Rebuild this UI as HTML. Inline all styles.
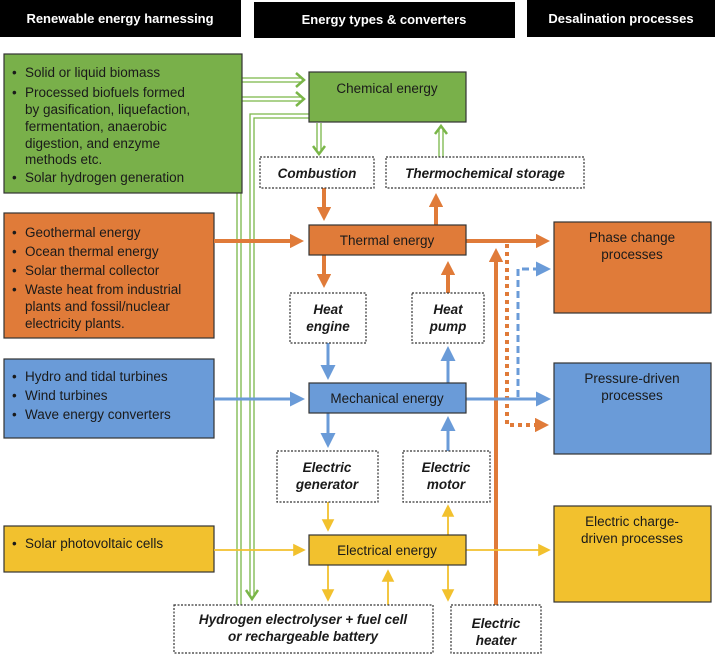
<!DOCTYPE html>
<html><head><meta charset="utf-8"><style>
body{margin:0;background:#fff;}
svg{display:block;font-family:"Liberation Sans",Arial,sans-serif;}
.t{font-size:13.5px;fill:#1a1a1a;}
.b{font-size:13.5px;font-weight:bold;font-style:italic;fill:#1a1a1a;}
.h{font-size:13px;font-weight:bold;fill:#fff;}
</style></head><body>
<svg width="715" height="654" viewBox="0 0 715 654" xmlns="http://www.w3.org/2000/svg">
<defs>
<marker id="ao" markerWidth="3.5" markerHeight="3.6" refX="2.5" refY="1.8" orient="auto" markerUnits="strokeWidth"><path d="M0,0 L3.5,1.8 L0,3.6z" fill="#e07b39"/></marker>
<marker id="ab" markerWidth="5" markerHeight="5" refX="4" refY="2.5" orient="auto" markerUnits="strokeWidth"><path d="M0,0 L5,2.5 L0,5z" fill="#6a9bd8"/></marker>
<marker id="ay" markerWidth="7" markerHeight="7" refX="6" refY="3.5" orient="auto" markerUnits="strokeWidth"><path d="M0,0 L7,3.5 L0,7z" fill="#f2c12e"/></marker>
</defs>
<!-- headers -->
<rect x="0" y="0" width="241" height="37" fill="#000"/>
<text x="120" y="23" class="h" text-anchor="middle">Renewable energy harnessing</text>
<rect x="254" y="2" width="261" height="36" fill="#000"/>
<text x="384" y="24" class="h" text-anchor="middle">Energy types &amp; converters</text>
<rect x="527" y="0" width="188" height="37" fill="#000"/>
<text x="621" y="23" class="h" text-anchor="middle">Desalination processes</text>

<!-- green double lines -->
<g stroke="#7ab648" stroke-width="1.3" fill="none">
<path d="M242,78 H302 M242,82 H302"/>
<path d="M237,607 V97 H302 M241,607 V101 H302"/>
<path d="M250,596 V114 H309 M254,596 V118 H309"/>
<path d="M317,123 V150 M321,123 V150"/>
<path d="M439,157 V128 M443,157 V128"/>
</g>
<g fill="none" stroke="#7ab648" stroke-width="2.5">
<path d="M296,73 L304,80 L296,87"/>
<path d="M296,92 L304,99 L296,106"/>
<path d="M313,146 L319,154 L325,146"/>
<path d="M435,134 L441,126 L447,134"/>
<path d="M246,590 L252,599 L258,590"/>
</g>

<!-- left boxes -->
<rect x="4" y="54" width="238" height="139" fill="#79b04a" stroke="#333" stroke-width="1.2"/>
<g class="t"><text x="12" y="77">•</text><text x="25" y="77">Solid or liquid biomass</text>
<text x="12" y="97">•</text><text x="25" y="97">Processed biofuels formed</text>
<text x="25" y="114">by gasification, liquefaction,</text>
<text x="25" y="131">fermentation, anaerobic</text>
<text x="25" y="148">digestion, and enzyme</text>
<text x="25" y="164">methods etc.</text>
<text x="12" y="182">•</text><text x="25" y="182">Solar hydrogen generation</text></g>

<rect x="4" y="213" width="210" height="125" fill="#e07b39" stroke="#333" stroke-width="1.2"/>
<g class="t"><text x="12" y="237">•</text><text x="25" y="237">Geothermal energy</text>
<text x="12" y="256">•</text><text x="25" y="256">Ocean thermal energy</text>
<text x="12" y="275">•</text><text x="25" y="275">Solar thermal collector</text>
<text x="12" y="294">•</text><text x="25" y="294">Waste heat from industrial</text>
<text x="25" y="311">plants and fossil/nuclear</text>
<text x="25" y="328">electricity plants.</text></g>

<rect x="4" y="359" width="210" height="79" fill="#6a9bd8" stroke="#333" stroke-width="1.2"/>
<g class="t"><text x="12" y="381">•</text><text x="25" y="381">Hydro and tidal turbines</text>
<text x="12" y="400">•</text><text x="25" y="400">Wind turbines</text>
<text x="12" y="419">•</text><text x="25" y="419">Wave energy converters</text></g>

<rect x="4" y="526" width="210" height="46" fill="#f2c12e" stroke="#333" stroke-width="1.2"/>
<g class="t"><text x="12" y="548">•</text><text x="25" y="548">Solar photovoltaic cells</text></g>

<!-- connectors -->
<g stroke="#e07b39" stroke-width="4" fill="none">
<path d="M214,241 H300" marker-end="url(#ao)"/>
<path d="M466,241 H546" marker-end="url(#ao)"/>
<path d="M324,188 V217" marker-end="url(#ao)"/>
<path d="M436,225 V197" marker-end="url(#ao)"/>
<path d="M324,255 V284" marker-end="url(#ao)"/>
<path d="M448,293 V265" marker-end="url(#ao)"/>
<path d="M496,605 V252" marker-end="url(#ao)"/>
<path d="M507,244 V425 H545" stroke-dasharray="4,4" marker-end="url(#ao)"/>
</g>
<g stroke="#6a9bd8" stroke-width="3" fill="none">
<path d="M214,399 H302" marker-end="url(#ab)"/>
<path d="M466,399 H548" marker-end="url(#ab)"/>
<path d="M328,343 V377" marker-end="url(#ab)"/>
<path d="M448,383 V349" marker-end="url(#ab)"/>
<path d="M328,413 V445" marker-end="url(#ab)"/>
<path d="M448,451 V419" marker-end="url(#ab)"/>
<path d="M518,397 V269 H548" stroke-dasharray="7,4" marker-end="url(#ab)"/>
</g>
<g stroke="#f2c12e" stroke-width="1.8" fill="none">
<path d="M214,550 H304" marker-end="url(#ay)"/>
<path d="M466,550 H549" marker-end="url(#ay)"/>
<path d="M328,502 V530" marker-end="url(#ay)"/>
<path d="M448,535 V506" marker-end="url(#ay)"/>
<path d="M328,565 V600" marker-end="url(#ay)"/>
<path d="M388,605 V571" marker-end="url(#ay)"/>
<path d="M448,565 V600" marker-end="url(#ay)"/>
</g>

<!-- central boxes -->
<rect x="309" y="72" width="157" height="50" fill="#79b04a" stroke="#333" stroke-width="1.2"/>
<text x="387" y="93" class="t" text-anchor="middle">Chemical energy</text>
<rect x="309" y="225" width="157" height="30" fill="#e07b39" stroke="#333" stroke-width="1.2"/>
<text x="387" y="245" class="t" text-anchor="middle">Thermal energy</text>
<rect x="309" y="383" width="157" height="30" fill="#6a9bd8" stroke="#333" stroke-width="1.2"/>
<text x="387" y="403" class="t" text-anchor="middle">Mechanical energy</text>
<rect x="309" y="535" width="157" height="30" fill="#f2c12e" stroke="#333" stroke-width="1.2"/>
<text x="387" y="555" class="t" text-anchor="middle">Electrical energy</text>

<!-- dotted boxes -->
<g fill="#fff" stroke="#333" stroke-width="1.2" stroke-dasharray="2,1.5">
<rect x="260" y="157" width="114" height="31"/>
<rect x="386" y="157" width="198" height="31"/>
<rect x="290" y="293" width="76" height="50"/>
<rect x="412" y="293" width="72" height="50"/>
<rect x="277" y="451" width="101" height="51"/>
<rect x="403" y="451" width="87" height="51"/>
<rect x="174" y="605" width="259" height="48"/>
<rect x="451" y="605" width="90" height="48"/>
</g>
<g class="b" text-anchor="middle">
<text x="317" y="178">Combustion</text>
<text x="485" y="178">Thermochemical storage</text>
<text x="328" y="314">Heat</text><text x="328" y="331">engine</text>
<text x="448" y="314">Heat</text><text x="448" y="331">pump</text>
<text x="327" y="472">Electric</text><text x="327" y="489">generator</text>
<text x="446" y="472">Electric</text><text x="446" y="489">motor</text>
<text x="303" y="624">Hydrogen electrolyser + fuel cell</text>
<text x="303" y="641">or rechargeable battery</text>
<text x="496" y="628">Electric</text><text x="496" y="645">heater</text>
</g>

<!-- right boxes -->
<rect x="554" y="222" width="157" height="91" fill="#e07b39" stroke="#333" stroke-width="1.2"/>
<text x="632" y="242" class="t" text-anchor="middle">Phase change</text>
<text x="632" y="259" class="t" text-anchor="middle">processes</text>
<rect x="554" y="363" width="157" height="91" fill="#6a9bd8" stroke="#333" stroke-width="1.2"/>
<text x="632" y="383" class="t" text-anchor="middle">Pressure-driven</text>
<text x="632" y="400" class="t" text-anchor="middle">processes</text>
<rect x="554" y="506" width="157" height="96" fill="#f2c12e" stroke="#333" stroke-width="1.2"/>
<text x="632" y="526" class="t" text-anchor="middle">Electric charge-</text>
<text x="632" y="543" class="t" text-anchor="middle">driven processes</text>
</svg>
</body></html>
